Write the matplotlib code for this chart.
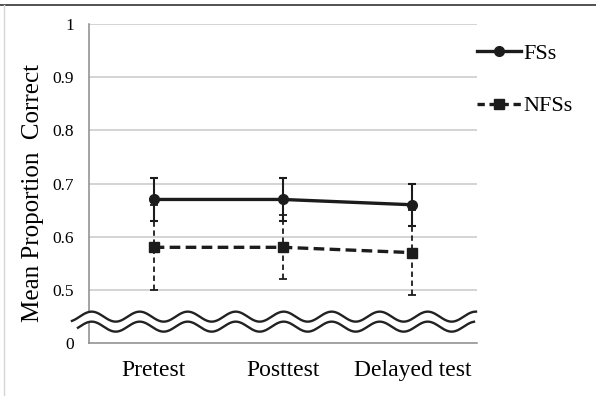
import numpy as np
import matplotlib
matplotlib.use("Agg")
import matplotlib.pyplot as plt
from matplotlib.lines import Line2D

plt.rcParams['font.family'] = ['Liberation Serif', 'DejaVu Serif']

# data
tests = ["Pretest", "Posttest", "Delayed test"]
fs_mean = [0.67, 0.67, 0.66]
fs_err = [0.04, 0.04, 0.04]
nfs_mean = [0.58, 0.58, 0.57]
nfs_err = [0.08, 0.06, 0.08]
ytick_vals = [0.4, 0.5, 0.6, 0.7, 0.8, 0.9, 1.0]
ytick_labels = ["0", "0.5", "0.6", "0.7", "0.8", "0.9", "1"]

ink = "#1c1c1c"
x = np.arange(len(tests))

fig = plt.figure(figsize=(5.96, 3.96), dpi=100)
ax = fig.add_axes([0.1493, 0.1338, 0.8003 - 0.1493, 0.9394 - 0.1338])

nfs_ls = (0, (3.2, 1.6))
# NFSs dashed
e2 = ax.errorbar(x, nfs_mean, yerr=nfs_err, color=ink, lw=2.4, ls=nfs_ls,
                 marker='s', ms=6.5, capsize=3, elinewidth=1.3, capthick=1.3,
                 zorder=3)
for c in e2[2]:
    c.set_linestyle((0, (3, 2)))
# FSs solid
e1 = ax.errorbar(x, fs_mean, yerr=fs_err, color=ink, lw=2.4, ls='-',
                 marker='o', ms=7, capsize=3, elinewidth=1.5, capthick=1.5,
                 zorder=4)

ax.set_xlim(-0.5, 2.5)
ax.set_ylim(0.4, 1.0)
ax.set_xticks(x)
ax.set_xticklabels(tests, fontsize=17)
ax.set_yticks(ytick_vals)
ax.set_yticklabels(ytick_labels, fontsize=12.5)
ax.tick_params(length=0)
ax.tick_params(axis='x', pad=12)
ax.tick_params(axis='y', pad=11)
for v in ytick_vals[1:]:
    ax.axhline(v, color="#c9c9c9", lw=1.1, zorder=0)
for s in ["top", "right"]:
    ax.spines[s].set_visible(False)
ax.spines["left"].set_color("#8a8a8a")
ax.spines["bottom"].set_color("#8a8a8a")
ax.spines["left"].set_linewidth(1.1)
ax.spines["bottom"].set_linewidth(1.1)
ax.set_ylabel("Mean Proportion  Correct", fontsize=18)
ax.yaxis.set_label_coords(-0.115, 0.47)

# axis-break wave
px_per_unit = 388 / 3.0
period = 48 / px_per_unit
x0 = -0.5 + 2.7 / px_per_unit
amp = 5 / 530.0
wx_up = np.linspace(-0.5 - 17 / px_per_unit, 2.5 - 1 / px_per_unit, 400)
wx_lo = np.linspace(-0.5 - 11 / px_per_unit, 2.5 - 3 / px_per_unit, 400)
y_up = 0.4496 + amp * np.cos(2 * np.pi * (wx_up - x0) / period)
y_lo = 0.4308 + amp * np.cos(2 * np.pi * (wx_lo - x0) / period)
wx = np.linspace(-0.5 - 11 / px_per_unit, 2.5 - 3 / px_per_unit, 400)
ax.fill_between(wx, 0.4308 + amp * np.cos(2 * np.pi * (wx - x0) / period),
                0.4496 + amp * np.cos(2 * np.pi * (wx - x0) / period),
                color="white", lw=0, zorder=5, clip_on=False)
ax.plot(wx_up, y_up, color="#222222", lw=1.7, zorder=6, clip_on=False)
ax.plot(wx_lo, y_lo, color="#222222", lw=1.7, zorder=6, clip_on=False)

h1 = Line2D([], [], color=ink, lw=2.4, ls='-', marker='o', ms=7)
h2 = Line2D([], [], color=ink, lw=2.4, ls=(0, (2.2, 1.4)), marker='s', ms=6.5)
ax.legend(handles=[h1, h2], labels=["FSs", "NFSs"], loc="upper left",
          bbox_to_anchor=(1.0, 0.94), frameon=False, fontsize=16,
          handlelength=2.0, handletextpad=0.1, labelspacing=1.45,
          borderaxespad=0, borderpad=0)

# figure frame lines
fig.add_artist(Line2D([0, 1], [1 - 5 / 396, 1 - 5 / 396], color="#333333", lw=1.2))
fig.add_artist(Line2D([4 / 596, 4 / 596], [0, 1 - 5 / 396], color="#d6d6d6", lw=1.0))

fig.savefig("out.png", dpi=100)
